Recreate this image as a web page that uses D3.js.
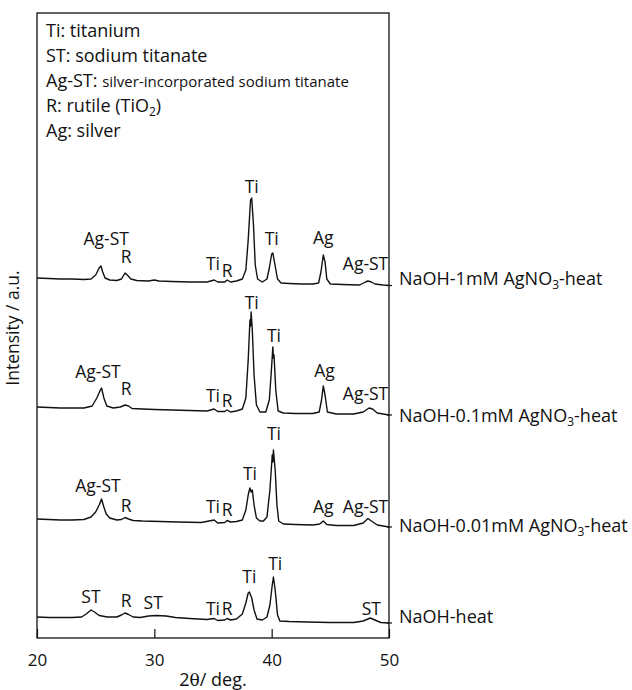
<!DOCTYPE html>
<html>
<head>
<meta charset="utf-8">
<script src="https://cdn.jsdelivr.net/npm/d3@7"></script>
<style>
  body { margin: 0; background: #fff; }
  svg text { font-family: "Open Sans", sans-serif; fill: #111; }
</style>
</head>
<body>
<div id="chart"></div>
<script>
// XRD patterns, [2theta, intensity (a.u., stacked)]
var series1mM = [
  [20.0,360],[21.0,359.5],[22.0,359],[23.0,359],[24.0,358.5],[24.6,359],[25.0,363],[25.3,370],[25.45,372],
  [25.6,366],[25.8,360],[26.2,358],[26.8,357.5],[27.2,359],[27.5,365],[27.7,363],[28.0,359],[28.5,357.5],
  [29.5,357],[30.0,358],[30.4,357],[31.5,356.5],[33.0,356],[34.5,356],[35.1,358],[35.4,356],[36.0,356],
  [36.2,358],[36.5,356],[37.0,357],[37.5,359],[37.8,368],[38.0,398],[38.2,438],[38.3,440],[38.45,413],
  [38.6,373],[38.8,359],[39.2,356],[39.6,359],[39.8,370],[40.0,384],[40.1,385],[40.3,372],[40.5,359],
  [40.8,355],[41.5,354.5],[42.5,354],[43.5,354],[44.0,355],[44.2,366],[44.4,383],[44.55,376],[44.7,359],
  [45.0,354],[46.0,353.5],[47.5,353],[48.0,356],[48.2,357],[48.5,356],[48.8,354],[49.5,353],[50.0,352.5]
];
var series01mM = [
  [20.0,231],[21.0,230.5],[22.0,230],[23.0,230],[24.0,230],[24.7,232],[25.1,240],[25.4,248],[25.5,250],
  [25.7,240],[25.95,232],[26.5,230],[27.1,231],[27.5,233],[27.8,232],[28.1,229.5],[29.0,229],[30.0,228.5],
  [31.5,228],[33.0,227.5],[34.5,227],[35.1,229],[35.4,226.5],[36.0,226.5],[36.2,228],[36.5,226],[37.0,227],
  [37.5,229],[37.8,240],[38.0,278],[38.15,318],[38.2,312],[38.25,326],[38.35,308],[38.5,263],[38.7,233],
  [39.0,226],[39.5,226],[39.8,238],[39.95,263],[40.1,291],[40.15,280],[40.2,283],[40.35,248],[40.55,227],
  [41.0,225],[42.0,224.5],[43.5,224.5],[44.05,226],[44.25,238],[44.4,252],[44.55,243],[44.75,226],
  [45.5,224],[47.0,224],[47.8,226],[48.3,230],[48.6,229],[49.0,225],[50.0,223]
];
var series001mM = [
  [20.0,119],[21.0,118.5],[22.0,118],[23.0,118],[24.0,118.5],[24.6,121],[25.0,126],[25.3,133],[25.5,139],
  [25.7,131],[25.9,124],[26.2,120],[26.8,118],[27.2,118.5],[27.5,120.5],[27.8,119],[28.2,117.5],[29.0,117],
  [30.5,116.5],[32.0,116],[34.0,115.5],[35.1,118],[35.4,115],[36.0,115.5],[36.2,117.5],[36.5,116],[37.0,116.5],
  [37.5,118],[37.8,128],[38.0,143],[38.1,148],[38.15,150],[38.25,146],[38.35,148],[38.5,133],[38.7,120],
  [39.0,117],[39.3,117],[39.6,121],[39.85,148],[40.05,183],[40.1,176],[40.15,188],[40.3,168],[40.45,133],
  [40.6,117],[41.0,114],[42.0,113.5],[43.5,113],[44.1,114],[44.4,117],[44.7,113.5],[45.5,112.5],[47.0,112.5],
  [47.8,115],[48.2,119.5],[48.5,117],[49.0,113],[50.0,111]
];
var seriesHeat = [
  [20.0,21],[21.0,20.5],[22.0,20.5],[23.0,20.5],[23.8,21],[24.2,24],[24.6,28],[24.9,26],[25.3,22.5],
  [26.0,21],[26.8,21],[27.2,23],[27.5,25],[27.8,23.5],[28.2,21],[28.8,20.5],[29.5,22],[30.2,22.5],[31.0,22],
  [31.8,20.5],[33.0,19.5],[34.5,18.5],[35.1,19.5],[35.4,17.5],[36.0,18],[36.2,19.5],[36.5,18],[37.0,19],
  [37.5,24],[37.8,35],[38.0,45],[38.1,46],[38.3,40],[38.5,28],[38.75,19],[39.2,18],[39.6,21],[39.85,33],
  [40.05,53],[40.15,61],[40.3,48],[40.5,23],[40.7,17],[41.5,16.5],[43.0,16],[45.0,15.5],[47.0,15.5],
  [47.8,17],[48.4,20],[48.8,18],[49.3,15.5],[50.0,15]
];

// peak labels: [text, 2theta, intensity]
var peaks1mM = [["Ag-ST",25.9,393],["R",27.6,375],["Ti",35.0,368],["R",36.2,361],["Ti",38.3,445],["Ti",40.0,393],["Ag",44.4,394],["Ag-ST",48.0,368]];
var peaks01mM = [["Ag-ST",25.2,260],["R",27.6,243],["Ti",35.0,236],["R",36.2,231],["Ti",38.3,329],["Ti",40.2,296],["Ag",44.5,261],["Ag-ST",48.0,238]];
var peaks001mM = [["Ag-ST",25.2,146],["R",27.6,126],["Ti",35.0,125],["R",36.2,122],["Ti",38.15,158],["Ti",40.2,198],["Ag",44.4,125],["Ag-ST",48.0,125]];
var peaksHeat = [["ST",24.6,35],["R",27.6,31],["ST",29.9,29],["Ti",35.0,23],["R",36.2,23],["Ti",38.1,55],["Ti",40.3,68],["ST",48.5,23]];

var seriesNames = [["NaOH-1mM AgNO","3","-heat"],["NaOH-0.1mM AgNO","3","-heat"],["NaOH-0.01mM AgNO","3","-heat"],["NaOH-heat","",""]];
var labelLevels = [353, 216, 106, 15];

var legendLines = [
  [["Ti: titanium"]],
  [["ST: sodium titanate"]],
  [["Ag-ST: "], ["silver-incorporated sodium titanate", "small"]],
  [["R: rutile (TiO"], ["2", "sub"], [")"]],
  [["Ag: silver"]]
];
var xTicks = [20, 30, 40, 50];

var width = 632, height = 690;
var margin = {top: 13, right: 243, bottom: 52, left: 37};

var svg = d3.select("#chart").append("svg")
  .attr("width", width).attr("height", height);

var x = d3.scaleLinear().domain([20, 50]).range([margin.left, width - margin.right]);
var y = d3.scaleLinear().domain([0, 625]).range([height - margin.bottom, margin.top]);

var line = d3.line().x(function(d){ return x(d[0]); }).y(function(d){ return y(d[1]); });

// frame
svg.append("rect")
  .attr("x", x(20)).attr("y", y(625))
  .attr("width", x(50) - x(20)).attr("height", y(0) - y(625))
  .attr("fill", "none").attr("stroke", "#111").attr("stroke-width", 1.3);

// x axis, ticks inside
var xAxis = d3.axisBottom(x).tickValues(xTicks).tickSize(-9).tickPadding(16).tickFormat(d3.format("d"));
var gx = svg.append("g").attr("transform", "translate(0," + y(0) + ")").call(xAxis);
gx.select(".domain").remove();
gx.selectAll("line").attr("stroke", "#111").attr("stroke-width", 1.2);
gx.selectAll("text").style("font-size", "17px").style("font-family", "'Open Sans', sans-serif").attr("fill", "#111");

svg.append("text")
  .attr("x", x(35)).attr("y", 686)
  .attr("text-anchor", "middle").style("font-size", "18px")
  .call(function(t){
    t.append("tspan").text("2");
    t.append("tspan").style("font-family", "'DejaVu Serif', serif").style("font-size", "17px").text("θ");
    t.append("tspan").text("/ deg.");
  });

svg.append("text")
  .attr("transform", "translate(19,328) rotate(-90)")
  .attr("text-anchor", "middle").style("font-size", "17.5px")
  .text("Intensity / a.u.");

// traces
var allSeries = [series1mM, series01mM, series001mM, seriesHeat];
svg.selectAll("path.trace").data(allSeries).enter().append("path")
  .attr("class", "trace")
  .attr("d", line)
  .attr("fill", "none").attr("stroke", "#111").attr("stroke-width", 1.4)
  .attr("stroke-linejoin", "round");

// small ticks at the right end of each trace
svg.selectAll("line.endtick").data(allSeries).enter().append("line")
  .attr("x1", x(50) - 2).attr("x2", x(50) + 3)
  .attr("y1", function(d){ return y(d[d.length - 1][1]); })
  .attr("y2", function(d){ return y(d[d.length - 1][1]); })
  .attr("stroke", "#111").attr("stroke-width", 1.2);

// peak labels
var allPeaks = [].concat(peaks1mM, peaks01mM, peaks001mM, peaksHeat);
svg.selectAll("text.peak").data(allPeaks).enter().append("text")
  .attr("class", "peak")
  .attr("x", function(d){ return x(d[1]); })
  .attr("y", function(d){ return y(d[2]); })
  .attr("text-anchor", "middle").style("font-size", "17.5px")
  .text(function(d){ return d[0]; });

// series names on the right
seriesNames.forEach(function(n, i){
  var t = svg.append("text")
    .attr("x", x(50) + 10).attr("y", y(labelLevels[i]))
    .style("font-size", "18px");
  t.append("tspan").text(n[0]);
  if (n[1]) {
    t.append("tspan").attr("dy", 4).style("font-size", "12px").text(n[1]);
    t.append("tspan").attr("dy", -4).text(n[2]);
  }
});

// legend text inside the frame
legendLines.forEach(function(parts, i){
  var t = svg.append("text")
    .attr("x", x(20) + 9).attr("y", margin.top + 24 + i * 25)
    .style("font-size", "18px");
  parts.forEach(function(p){
    var s = t.append("tspan").text(p[0]);
    if (p[1] === "small") s.style("font-size", "15px");
    if (p[1] === "sub") s.attr("dy", 4).style("font-size", "12px");
    if (p[0] === ")") s.attr("dy", -4);
  });
});
</script>
</body>
</html>
